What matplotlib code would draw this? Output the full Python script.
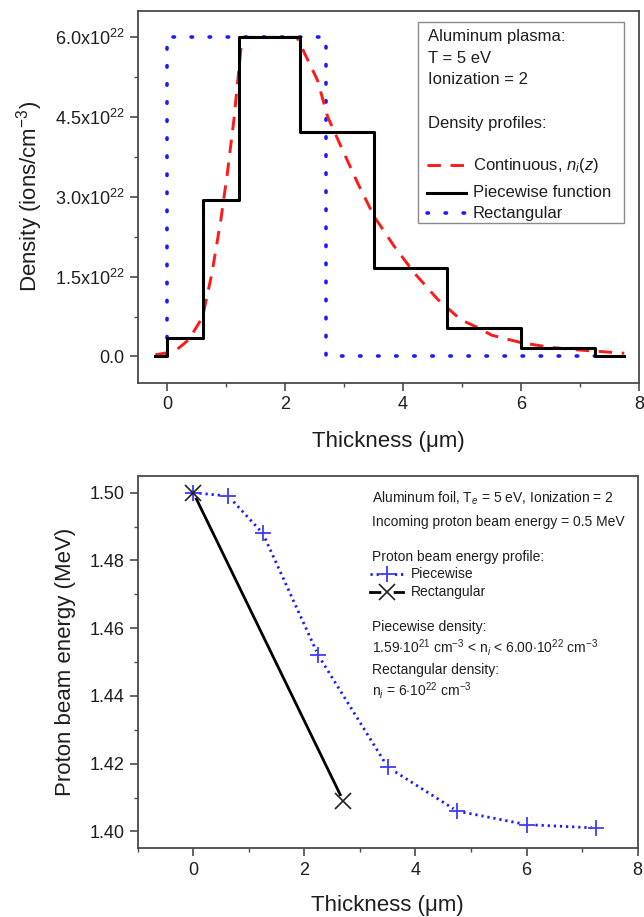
import matplotlib
matplotlib.use("Agg")
import matplotlib.pyplot as plt
from matplotlib.lines import Line2D
from matplotlib.patches import Rectangle
from matplotlib.ticker import FixedLocator, MultipleLocator, FuncFormatter

plt.rcParams["font.family"] = ["Liberation Sans", "DejaVu Sans"]
plt.rcParams["mathtext.fontset"] = "custom"
plt.rcParams["mathtext.rm"] = "Liberation Sans"
plt.rcParams["mathtext.it"] = "Liberation Sans:italic"
plt.rcParams["mathtext.bf"] = "Liberation Sans:bold"

# ---- density profiles (ions/cm^3) ----
step_edges = [-0.2, 0.0, 0.6, 1.22, 2.25, 3.5, 4.75, 6.0, 7.25, 7.75]
step_density = [0.0, 0.34e22, 2.95e22, 6.0e22, 4.22e22, 1.66e22, 0.53e22, 0.159e22, 0.0]

rect_x = [0.0, 0.0, 2.7, 2.7, 7.25]
rect_density = [0.0, 6.0e22, 6.0e22, 0.0, 0.0]

cont_x = [-0.2, 0.0, 0.2, 0.37, 0.6, 0.76, 0.91, 1.02, 1.13, 1.27, 2.2, 2.55, 2.72,
          2.95, 3.23, 3.51, 3.85, 4.19, 4.59, 4.98, 5.27, 5.5, 6.0, 6.5, 7.0, 7.75]
cont_density = [0.03e22, 0.07e22, 0.16e22, 0.32e22, 0.74e22, 1.57e22, 2.57e22, 3.44e22,
                4.44e22, 6.0e22, 6.0e22, 5.19e22, 4.51e22, 3.94e22, 3.26e22, 2.63e22,
                2.07e22, 1.57e22, 1.07e22, 0.69e22, 0.54e22, 0.40e22, 0.26e22, 0.17e22,
                0.12e22, 0.06e22]

density_ticks = [0.0, 1.5e22, 3.0e22, 4.5e22, 6.0e22]

# ---- proton beam energy (MeV) ----
pw_thickness = [0.0, 0.63, 1.25, 2.25, 3.5, 4.75, 6.0, 7.25]
pw_energy = [1.500, 1.499, 1.488, 1.452, 1.419, 1.406, 1.402, 1.401]

rect_thickness = [0.0, 2.7]
rect_energy = [1.500, 1.409]

energy_ticks = [1.40, 1.42, 1.44, 1.46, 1.48, 1.50]
thickness_ticks = [0, 2, 4, 6, 8]

RED = "#ff1a1a"
BLUE = "#1a1aff"
PLUS_BLUE = "#3b3bff"
TXT = "#1e1e1e"
SPINE = "#4a4a4a"

fig = plt.figure(figsize=(6.44, 9.17), dpi=100)
ax1 = fig.add_axes([0.2138, 0.5823, 0.7784, 0.4060])
ax2 = fig.add_axes([0.2140, 0.0749, 0.7760, 0.4063])


def style_axes(ax):
    for sp in ax.spines.values():
        sp.set_color(SPINE)
        sp.set_linewidth(1.3)
    ax.tick_params(which="both", direction="out", top=False, right=False,
                   color=SPINE, labelcolor=TXT, labelsize=13)
    ax.tick_params(which="major", length=5.5, width=1.2, pad=4)
    ax.tick_params(which="minor", length=3, width=1.0)


# ---------------- top panel ----------------
ax1.plot(rect_x, rect_density, color=BLUE, lw=2.6,
         linestyle=(0, (0.4, 4.6)), dash_capstyle="round", zorder=2)
ax1.plot(cont_x, cont_density, color=RED, lw=2.1,
         linestyle=(0, (4.6, 3.3)), zorder=3)
ax1.step(step_edges, step_density + [step_density[-1]], where="post",
         color="black", lw=2.2, zorder=4)

ax1.set_xlim(-0.5, 8)
ax1.set_ylim(-0.5e22, 6.5e22)
ax1.xaxis.set_major_locator(FixedLocator(thickness_ticks))
ax1.xaxis.set_minor_locator(MultipleLocator(1))
ax1.yaxis.set_major_locator(FixedLocator(density_ticks))
ax1.yaxis.set_minor_locator(MultipleLocator(0.75e22))


def density_fmt(v, pos):
    if abs(v) < 1e18:
        return "0.0"
    return f"{v / 1e22:.1f}x10$^{{22}}$"


ax1.yaxis.set_major_formatter(FuncFormatter(density_fmt))
style_axes(ax1)
ax1.set_xlabel("Thickness (\u03bcm)", fontsize=16, color=TXT, labelpad=13)
ax1.set_ylabel("Density (ions/cm$^{-3}$)", fontsize=16, color=TXT, labelpad=7)

# legend box with heading text
ax1.add_patch(Rectangle((0.560, 0.4306), 0.410, 0.540, transform=ax1.transAxes,
                        facecolor="white", edgecolor="#8a8a8a", lw=1.0, zorder=5))
tx = 0.580
for yy, s in [(0.932, "Aluminum plasma:"), (0.873, "T = 5 eV"),
              (0.8165, "Ionization = 2"), (0.698, "Density profiles:")]:
    ax1.text(tx, yy, s, transform=ax1.transAxes, fontsize=12, color=TXT,
             va="center", ha="left", zorder=6)
entries = [
    (0.5855, "Continuous, $\\mathit{n_i(z)}$", dict(color=RED, lw=2.1, linestyle=(0, (4.6, 3.3)))),
    (0.511, "Piecewise function", dict(color="black", lw=2.2)),
    (0.4566, "Rectangular", dict(color=BLUE, lw=2.6, linestyle=(0, (0.4, 4.6)),
                                  dash_capstyle="round")),
]
for yy, s, kw in entries:
    ax1.add_line(Line2D([0.577, 0.655], [yy, yy], transform=ax1.transAxes,
                        zorder=6, **kw))
    ax1.text(0.668, yy, s, transform=ax1.transAxes, fontsize=12, color=TXT,
             va="center", ha="left", zorder=6)

# ---------------- bottom panel ----------------
ax2.plot(pw_thickness, pw_energy, color=BLUE, lw=2.0,
         linestyle=(0, (0.8, 1.4)), zorder=2)
ax2.plot(rect_thickness, rect_energy, color="black", lw=2.0, zorder=2)
# small clearings around the symbols
ax2.plot(pw_thickness, pw_energy, linestyle="none", marker="o", ms=7,
         mfc="white", mec="none", zorder=3)
ax2.plot(rect_thickness[1:], rect_energy[1:], linestyle="none", marker="o", ms=9,
         mfc="white", mec="none", zorder=3)
ax2.plot(pw_thickness, pw_energy, linestyle="none", marker="+", ms=11,
         mew=1.3, color=PLUS_BLUE, zorder=4)
ax2.plot(rect_thickness, rect_energy, linestyle="none", marker="x", ms=11,
         mew=1.2, color="#222222", zorder=4)

ax2.set_xlim(-1, 8)
ax2.set_ylim(1.395, 1.505)
ax2.xaxis.set_major_locator(FixedLocator(thickness_ticks))
ax2.xaxis.set_minor_locator(MultipleLocator(1))
ax2.yaxis.set_major_locator(FixedLocator(energy_ticks))
ax2.yaxis.set_minor_locator(MultipleLocator(0.01))
ax2.yaxis.set_major_formatter(FuncFormatter(lambda v, p: f"{v:.2f}"))
style_axes(ax2)
ax2.set_xlabel("Thickness (\u03bcm)", fontsize=16, color=TXT, labelpad=12)
ax2.set_ylabel("Proton beam energy (MeV)", fontsize=16, color=TXT, labelpad=10)

bx = 0.468
lines_b = [
    (0.9393, "Aluminum foil, T$_e$ = 5 eV, Ionization = 2"),
    (0.8765, "Incoming proton beam energy = 0.5 MeV"),
    (0.781, "Proton beam energy profile:"),
    (0.5947, "Piecewise density:"),
    (0.5384, "1.59$\\cdot$10$^{21}$ cm$^{-3}$ < n$_i$ < 6.00$\\cdot$10$^{22}$ cm$^{-3}$"),
    (0.4785, "Rectangular density:"),
    (0.4249, "n$_i$ = 6$\\cdot$10$^{22}$ cm$^{-3}$"),
]
for yy, s in lines_b:
    ax2.text(bx, yy, s, transform=ax2.transAxes, fontsize=10, color=TXT,
             va="center", ha="left")

hx0, hx1 = 0.4645, 0.531
y_pw, y_rc = 0.7354, 0.687
ax2.add_line(Line2D([hx0, hx1], [y_pw, y_pw], transform=ax2.transAxes,
                    color=BLUE, lw=2.0, linestyle=(0, (0.8, 1.4))))
ax2.add_line(Line2D([(hx0 + hx1) / 2], [y_pw], transform=ax2.transAxes,
                    marker="o", ms=7, mfc="white", mec="none", linestyle="none"))
ax2.add_line(Line2D([(hx0 + hx1) / 2], [y_pw], transform=ax2.transAxes,
                    marker="+", ms=11, mew=1.3, color=PLUS_BLUE, linestyle="none"))
ax2.add_line(Line2D([hx0, hx1], [y_rc, y_rc], transform=ax2.transAxes,
                    color="black", lw=2.0))
ax2.add_line(Line2D([(hx0 + hx1) / 2], [y_rc], transform=ax2.transAxes,
                    marker="o", ms=9, mfc="white", mec="none", linestyle="none"))
ax2.add_line(Line2D([(hx0 + hx1) / 2], [y_rc], transform=ax2.transAxes,
                    marker="x", ms=11, mew=1.2, color="#222222", linestyle="none"))
ax2.text(0.546, y_pw, "Piecewise", transform=ax2.transAxes, fontsize=10,
         color=TXT, va="center", ha="left")
ax2.text(0.546, y_rc, "Rectangular", transform=ax2.transAxes, fontsize=10,
         color=TXT, va="center", ha="left")

fig.savefig("out.png", dpi=100)
